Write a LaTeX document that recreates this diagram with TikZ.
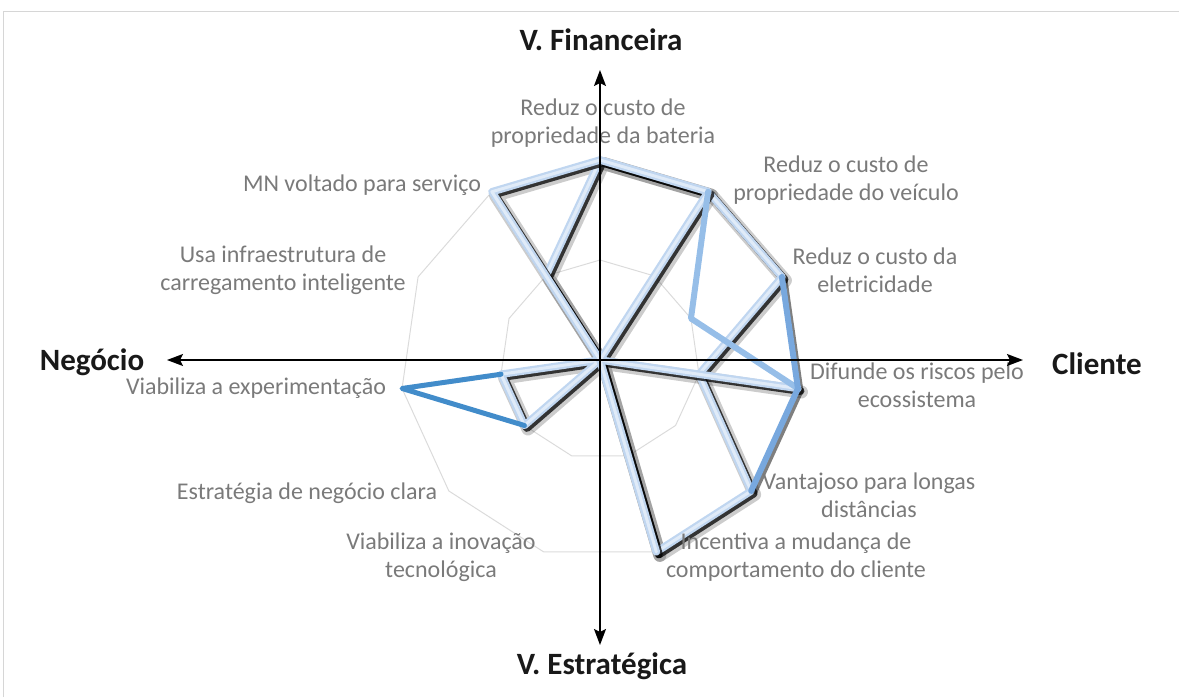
\documentclass[tikz,border=0pt]{standalone}
\usepackage{fontspec}
\setmainfont{Carlito}
\usetikzlibrary{arrows.meta}
\definecolor{azulclaro}{RGB}{192,214,240}
\definecolor{azulbrilho}{RGB}{224,235,248}
\definecolor{azulmedio}{RGB}{150,190,232}
\definecolor{azulforte}{RGB}{120,168,222}
\definecolor{azulescuro}{RGB}{66,140,202}
\newcommand{\serieA}{(f0) -- (f1) -- (f2) -- (h3) -- (f4) -- (f5) -- (O) -- (h7) -- (h8) -- (O) -- (h10) -- cycle}
\newcommand{\serieB}{(f0) -- (f1) -- (O) -- (f3) -- (O) -- (f5) -- (O) -- (f10) -- cycle}
\begin{document}
\begin{tikzpicture}[x=1pt,y=1pt,
    grade/.style={draw=black!14,line width=1pt},
    sombra/.style={draw=black,opacity=0.75,line width=8pt,line join=round},
    borrao/.style={draw=black,opacity=0.2,line width=13pt,line join=round},
    serie/.style={draw=azulclaro,line width=7.5pt,line join=round},
    brilho/.style={draw=azulbrilho,line width=3pt,line join=round},
    medio/.style={draw=#1,line width=6pt,line join=round,line cap=round},
    eixo/.style={draw=black,line width=1.5pt,
                 {Stealth[length=16pt,width=12pt,inset=3pt]}-{Stealth[length=16pt,width=12pt,inset=3pt]}},
    rotulo/.style={text=black!52,font=\fontsize{24}{28}\selectfont,align=center},
    titulo/.style={text=black!90,font=\fontsize{31}{36}\selectfont\bfseries}]
    \useasboundingbox (-600,-337) rectangle (579,360);
    \draw[black!16] (-597,-337) -- (-597,349) -- (579,349);
    \coordinate (O) at (0,0);
    \foreach \k in {0,...,10}{
        \coordinate (h\k) at ({90-\k*360/11}:100);
        \coordinate (f\k) at ({90-\k*360/11}:200);
    }
    % grade
    \draw[grade] (h0) \foreach \k in {1,...,10}{-- (h\k)} -- cycle;
    \draw[grade] (f0) \foreach \k in {1,...,10}{-- (f\k)} -- cycle;
    % series com sombra
    \begin{scope}[transform canvas={shift={(3.5,-3.5)}}]
        \draw[borrao] \serieA;
        \draw[borrao] \serieB;
    \end{scope}
    \begin{scope}[transform canvas={shift={(2.5,-2.5)}}]
        \draw[sombra] \serieA;
    \end{scope}
    \draw[serie] \serieA;
    \draw[brilho] \serieA;
    \begin{scope}[transform canvas={shift={(2.5,-2.5)}}]
        \draw[sombra] \serieB;
        \draw[sombra,line width=6pt,opacity=0.5] (f2) -- (f3) -- (f4);
    \end{scope}
    \draw[serie] \serieB;
    \draw[brilho] \serieB;
    \draw[medio=azulmedio] (f1) -- (h2) -- (f3);
    \draw[medio=azulforte] (f2) -- (f3) -- (f4);
    \draw[medio=azulescuro,line width=5pt] (h8) -- (f8) -- (h7);
    % eixos
    \coordinate (eO) at (-433,0);
    \coordinate (eL) at (423,0);
    \coordinate (eN) at (0,290);
    \coordinate (eS) at (0,-285);
    % rotulos
    \node[rotulo] (lbat) at (3,237) {Reduz o custo de\\propriedade da bateria};
    \node[rotulo] (lvei) at (246,180) {Reduz o custo de\\propriedade do veículo};
    \node[rotulo] (lele) at (275,90) {Reduz o custo da\\eletricidade};
    \node[rotulo] (ldif) at (317,-25) {Difunde os riscos pelo\\ecossistema};
    \node[rotulo] (lvan) at (269,-135) {Vantajoso para longas\\distâncias};
    \node[rotulo] (linc) at (196,-197) {Incentiva a mudança de\\comportamento do cliente};
    \node[rotulo] (lino) at (-159,-197) {Viabiliza a inovação\\tecnológica};
    \node[rotulo] (lest) at (-293,-133) {Estratégia de negócio clara};
    \node[rotulo] (lexp) at (-344,-28) {Viabiliza a experimentação};
    \node[rotulo] (lusa) at (-317,90) {Usa infraestrutura de\\carregamento inteligente};
    \node[rotulo] (lmn) at (-238,175) {MN voltado para serviço};
    \draw[eixo] (eO) -- (eL);
    \draw[eixo] (eS) -- (eN);
    \node[titulo] (tfin) at (1,320) {V. Financeira};
    \node[titulo] (test) at (2,-306) {V. Estratégica};
    \node[titulo] (tneg) at (-508,-2) {Negócio};
    \node[titulo] (tcli) at (497,-4) {Cliente};
\end{tikzpicture}
\end{document}
